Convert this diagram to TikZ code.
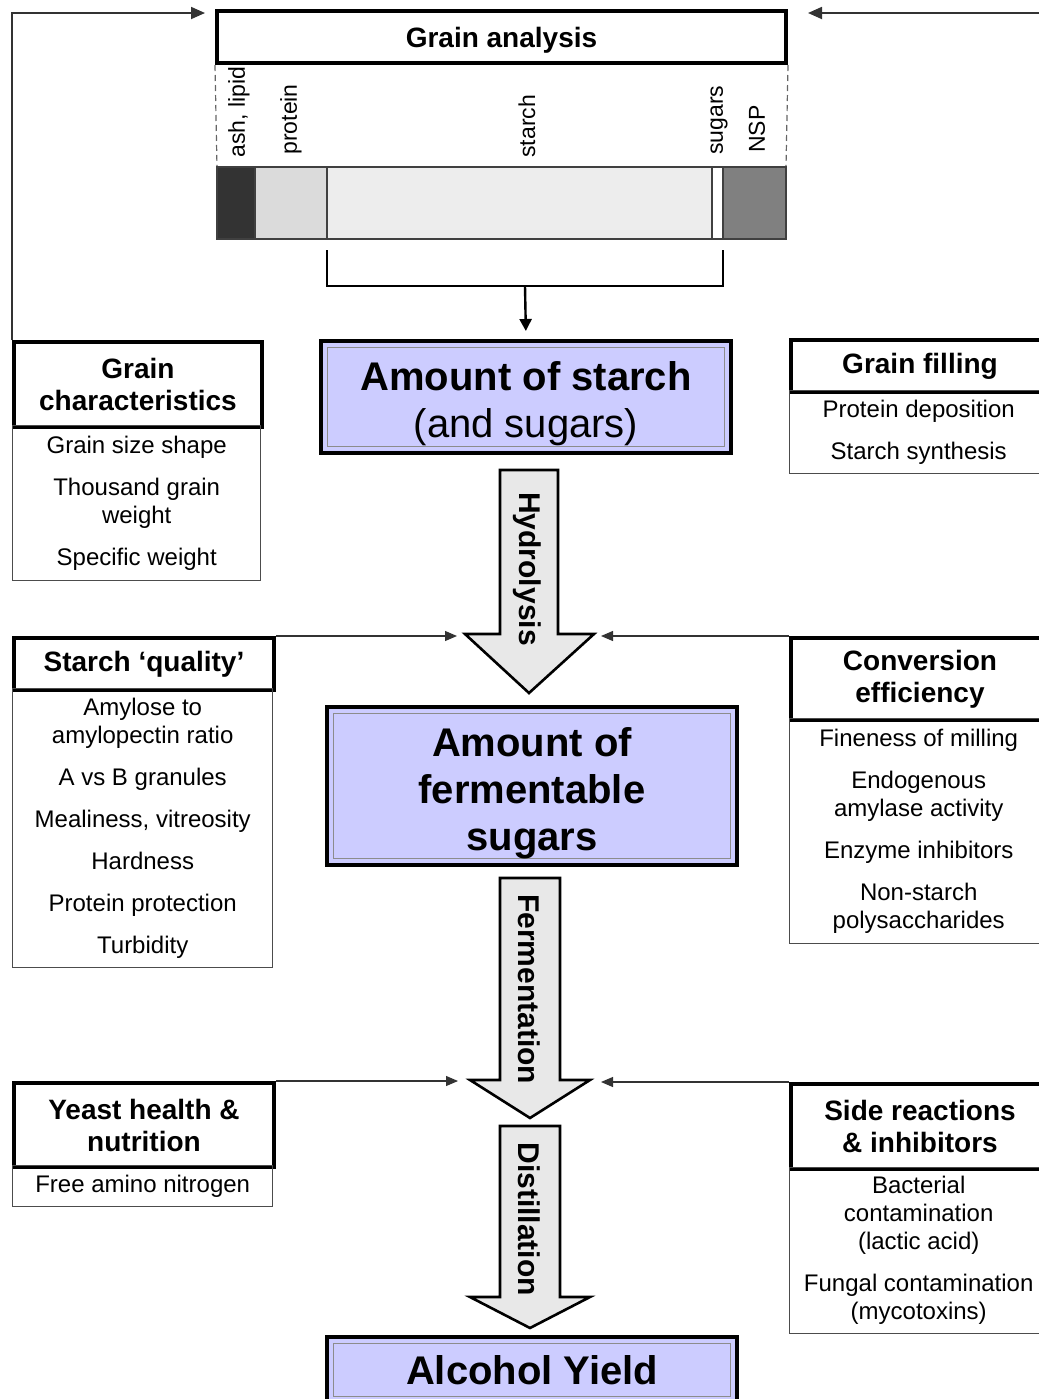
\documentclass[tikz,border=0pt]{standalone}
\usepackage{fontspec}
\setmainfont{Liberation Sans}
\usetikzlibrary{arrows.meta}

\definecolor{lav}{RGB}{204,204,255}
\definecolor{flowgray}{RGB}{232,232,232}

\tikzset{
  headbox/.style={draw=black, line width=2pt, fill=white, align=center, inner sep=0pt,
    anchor=north west, font=\fontsize{14}{16}\selectfont\bfseries},
  bodybox/.style={draw=black!70, line width=0.7pt, align=center, inner sep=0pt,
    anchor=north west, font=\fontsize{12}{14}\selectfont},
  mainbox/.style={draw=black, line width=2pt, fill=lav, align=center, inner sep=0pt,
    font=\fontsize{20}{23.5}\selectfont\bfseries,
    path picture={\draw[black!45, line width=0.8pt]
      ([shift={(3.2pt,-3.2pt)}]path picture bounding box.north west) rectangle
      ([shift={(-3.2pt,3.2pt)}]path picture bounding box.south east);}},
  flow/.style={draw=black, line width=1.3pt, fill=flowgray, line join=miter},
  flowlabel/.style={rotate=-90, inner sep=0pt, font=\fontsize{15}{17}\selectfont\bfseries},
  barlabel/.style={rotate=90, anchor=west, inner sep=0pt, font=\fontsize{11.5}{13}\selectfont},
  barpart/.style={draw=black!75, line width=0.7pt},
  link/.style={draw=black!80, line width=0.6pt, -{Triangle[length=6pt,width=5pt]}},
  feed/.style={draw=black!80, line width=0.9pt, -{Triangle[length=7pt,width=6pt]}},
}

\begin{document}
\begin{tikzpicture}[x=0.5pt, y=-0.5pt]
    \useasboundingbox (0,0) rectangle (1039,1399);
    \clip (0,0) rectangle (1039,1399);

    % grain analysis
    \node[headbox, anchor=center, minimum width=284.5pt, minimum height=26pt, text depth=0pt] (ganal) at (501.5,37) {Grain analysis};
    \draw[black!60, line width=0.6pt, dash pattern=on 3pt off 2pt] (ganal.south west) -- (217,167);
    \draw[black!60, line width=0.6pt, dash pattern=on 3pt off 2pt] (ganal.south east) -- (786,167);
    \draw[barpart, fill=black!80] (217,167) rectangle (255,239);
    \draw[barpart, fill=black!14] (255,167) rectangle (327,239);
    \draw[barpart, fill=black!7] (327,167) rectangle (712,239);
    \draw[barpart, fill=white] (712,167) rectangle (723,239);
    \draw[barpart, fill=black!50] (723,167) rectangle (786,239);
    \node[barlabel] (lash) at (239,158) {ash, lipid};
    \node[barlabel] (lprot) at (291,155) {protein};
    \node[barlabel] (lstarch) at (527,158) {starch};
    \node[barlabel] (lsug) at (719,155) {sugars};
    \node[barlabel] (lnsp) at (757,153) {NSP};

    % bracket
    \coordinate (brk) at (525,286);
    \draw[line width=1.2pt] (327,250) |- (723,286) -- (723,250);

    % main column
    \node[mainbox, minimum width=205pt, minimum height=56pt, text height=40pt, text depth=0pt] (starch) at (526,397)
        {Amount of starch\\{\mdseries (and sugars)}};
    \node[mainbox, minimum width=205pt, minimum height=79pt, text height=64pt, text depth=0pt] (ferm) at (532,786)
        {Amount of\\fermentable\\sugars};
    \node[mainbox, minimum width=205pt, minimum height=33pt] (yield) at (532,1370)
        {Alcohol Yield};
    \draw[line width=1.2pt, -{Triangle[length=6pt,width=6pt]}, shorten >=4pt] (brk) -- (starch.north);

    \draw[flow] (500,470) -- (558,470) -- (558,634) -- (594,634) -- (529,693) -- (465,634) -- (500,634) -- cycle;
    \node[flowlabel] (hydro) at (527,569) {Hydrolysis};
    \draw[flow] (500,878) -- (560,878) -- (560,1080) -- (590,1080) -- (530,1118) -- (470,1080) -- (500,1080) -- cycle;
    \node[flowlabel] (fermt) at (529,989) {Fermentation};
    \draw[flow] (500,1126) -- (560,1126) -- (560,1297) -- (590,1297) -- (530,1328) -- (470,1297) -- (500,1297) -- cycle;
    \node[flowlabel] (dist) at (529,1219) {Distillation};

    % left
    \node[headbox, minimum width=124pt, minimum height=42.5pt] (gchar) at (12,340) {Grain\\characteristics};
    \node[bodybox, minimum width=124pt, minimum height=77.5pt] (gcharb) at (12,425)
        {Grain size shape\\[7pt]Thousand grain\\weight\\[7pt]Specific weight};
    \node[headbox, minimum width=130pt, minimum height=26pt] (squal) at (12,636) {Starch `quality'};
    \node[bodybox, minimum width=130pt, minimum height=139.5pt] (squalb) at (12,688)
        {Amylose to\\amylopectin ratio\\[7pt]A vs B granules\\[7pt]Mealiness, vitreosity\\[7pt]Hardness\\[7pt]Protein protection\\[7pt]Turbidity};
    \node[headbox, minimum width=130pt, minimum height=42pt] (yeast) at (12,1081) {Yeast health \&\\nutrition};
    \node[bodybox, minimum width=130pt, minimum height=20.5pt] (yeastb) at (12,1165) {Free amino nitrogen};

    % right
    \node[headbox, minimum width=129pt, minimum height=26pt] (gfill) at (789,338) {Grain filling};
    \node[bodybox, minimum width=129pt, minimum height=41.5pt] (gfillb) at (789,390)
        {Protein deposition\\[7pt]Starch synthesis};
    \node[headbox, minimum width=129pt, minimum height=41pt] (conv) at (789,636) {Conversion\\efficiency};
    \node[bodybox, minimum width=129pt, minimum height=112.5pt] (convb) at (789,718)
        {Fineness of milling\\[7pt]Endogenous\\amylase activity\\[7pt]Enzyme inhibitors\\[7pt]Non-starch\\polysaccharides};
    \node[headbox, minimum width=129pt, minimum height=42.5pt] (side) at (789,1082) {Side reactions\\\& inhibitors};
    \node[bodybox, minimum width=129pt, minimum height=83pt] (sideb) at (789,1167)
        {Bacterial\\contamination\\(lactic acid)\\[7pt]Fungal contamination\\(mycotoxins)};

    % links
    \coordinate (fbl) at (205,13);
    \coordinate (fbr) at (808,13);
    \coordinate (hl) at (457,636);
    \coordinate (hr) at (601,636);
    \coordinate (fl) at (458,1081);
    \coordinate (fr) at (601,1082);
    \draw[feed] (gchar.north west) |- (fbl);
    \draw[feed] (gfill.north east) |- (fbr);
    \draw[link] (squal.north east) -- (hl);
    \draw[link] (conv.north west) -- (hr);
    \draw[link] (yeast.north east) -- (fl);
    \draw[link] (side.north west) -- (fr);
\end{tikzpicture}
\end{document}
